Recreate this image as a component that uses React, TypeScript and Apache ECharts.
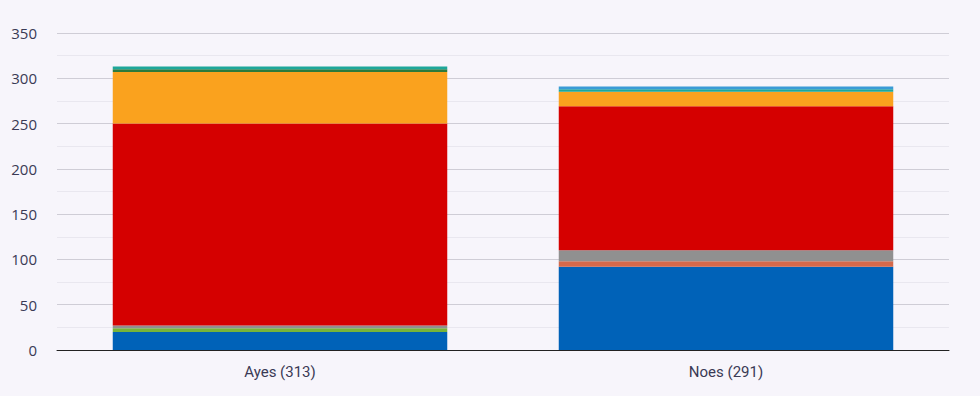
import React, { useEffect, useRef } from "react";
import * as echarts from "echarts";

const categories = ["Ayes (313)", "Noes (291)"];
const seriesNames = ["Blue", "Light green", "Coral", "Grey", "Red", "Orange", "Dark green", "Teal", "Light blue"];
const seriesColors = ["#0062B8", "#77B43A", "#D4694B", "#909090", "#D50000", "#FAA21E", "#2C7A3C", "#1EA79A", "#3A9BD6"];
const ayesValues = [20, 4, 0, 3, 223, 57, 3, 3, 0];
const noesValues = [92, 0, 6, 12, 159, 16, 0, 3, 3];
const yMax = 350;
const yInterval = 50;

export default function App() {
  const ref = useRef<HTMLDivElement>(null);
  useEffect(() => {
    if (!ref.current) return;
    const chart = echarts.init(ref.current, null, { renderer: "svg" });
    chart.setOption({
      animation: false,
      backgroundColor: "#F7F5FB",
      grid: { left: 57, right: 31, top: 33, bottom: 46, containLabel: false },
      xAxis: {
        type: "category",
        data: categories,
        axisLine: { lineStyle: { color: "#222", width: 1 } },
        axisTick: { show: false },
        axisLabel: { color: "#3a3a55", fontSize: 15, fontFamily: "Roboto", margin: 14 },
      },
      yAxis: {
        type: "value",
        min: 0,
        max: yMax,
        interval: yInterval,
        axisLine: { show: false },
        axisTick: { show: false },
        axisLabel: { color: "#3a3a55", fontSize: 15, fontFamily: "Open Sans", margin: 20 },
        splitLine: { lineStyle: { color: "#cfcdd6", width: 1 } },
        minorTick: { show: false, splitNumber: 2 },
        minorSplitLine: { show: true, lineStyle: { color: "#e9e7ef", width: 1 } },
      },
      series: seriesNames.map((name, i) => ({
        name,
        type: "bar",
        stack: "total",
        barWidth: "75%",
        data: [ayesValues[i], noesValues[i]],
        itemStyle: { color: seriesColors[i], borderWidth: 0 },
      })),
    });
    return () => chart.dispose();
  }, []);
  return (
    <div
      ref={ref}
      style={{ position: "absolute", left: 0, top: 0, width: 980, height: 396 }}
    />
  );
}
